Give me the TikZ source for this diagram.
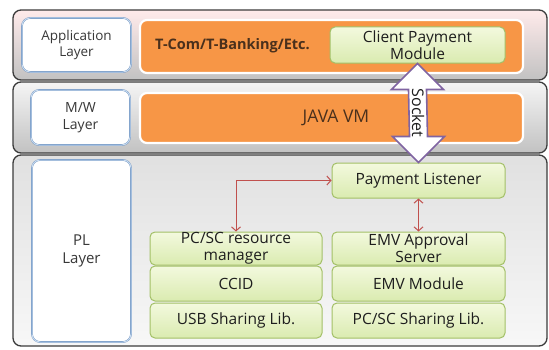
\documentclass[tikz,border=0pt]{standalone}
\usepackage{fontspec}
\setmainfont{Open Sans}
\usetikzlibrary{arrows.meta,calc}
\definecolor{bandline}{HTML}{3C3C3C}
\definecolor{labelblue}{HTML}{5F87BA}
\definecolor{labelglow}{HTML}{C9DCF0}
\definecolor{orangefill}{HTML}{F79646}
\definecolor{greenline}{HTML}{A3C067}
\definecolor{greentop}{HTML}{F3F9DE}
\definecolor{greenbot}{HTML}{DAEBB0}
\definecolor{redline}{HTML}{C0504D}
\definecolor{sockline}{HTML}{8064A2}
\definecolor{labeltext}{HTML}{383838}
\definecolor{browntext}{HTML}{4A301C}
\definecolor{darktext}{HTML}{1E1E1E}
\tikzset{
  band/.style={draw=bandline, line width=1.3pt, rounded corners=8pt, minimum width=534pt, inner sep=0pt},
  layerbox/.style={draw=labelblue, line width=1.6pt, fill=white, rounded corners=8pt, inner sep=0pt, align=center, text=labeltext, font=\fontsize{13.5}{16}\selectfont,
    postaction={draw=labelglow, line width=1pt, rounded corners=6pt, shorten >=0pt}},
  orangebox/.style={draw=white, line width=2.2pt, fill=orangefill, rounded corners=7pt, minimum width=383pt, inner sep=0pt},
  greenbox/.style={draw=greenline, line width=1pt, top color=greentop, bottom color=greenbot, rounded corners=5pt, inner sep=0pt, align=center, text=darktext, font=\fontsize{15.5}{17}\selectfont},
  redarrow/.style={draw=redline, line width=1pt, {Straight Barb[length=4pt,width=9pt]}-{Straight Barb[length=4pt,width=9pt]}}
}
\begin{document}
\begin{tikzpicture}[x=1pt,y=1pt]
\useasboundingbox[fill=white] (0,0) rectangle (549,349);
% layer bands
\node[band, top color=white!92!red, bottom color=black!24, minimum height=70pt] (appband) at (280,304) {};
\node[band, top color=white!96!black, bottom color=black!24, minimum height=71pt] (mwband) at (280,231.5) {};
\node[band, top color=black!12, bottom color=black!3, minimum height=191pt] (plband) at (280,98.5) {};
% layer labels
\node[layerbox, minimum width=109pt, minimum height=54pt] (applbl) at (76.5,304) {Application\\Layer};
\node[layerbox, minimum width=99pt, minimum height=55pt, font=\fontsize{14}{17}\selectfont] (mwlbl) at (80.5,231.5) {M/W\\Layer};
\node[layerbox, minimum width=99pt, minimum height=182pt, font=\fontsize{15}{18}\selectfont] (pllbl) at (81.5,98) {PL\\Layer};
% orange boxes
\node[orangebox, minimum height=53pt] (apporange) at (331.5,302.5) {};
\node[orangebox, minimum height=50pt] (javavm) at (331.5,231) {};
\node[inner sep=0pt, font=\fontsize{17.5}{20}\selectfont, text=browntext] (javatext) at (336,231) {JAVA VM};
\node[anchor=west, inner sep=0pt, font=\bfseries\fontsize{14.5}{17}\selectfont, text=browntext] (tcom) at (155,303) {T-Com/T-Banking/Etc.};
% client module
\node[greenbox, minimum width=175pt, minimum height=36pt] (client) at (417.5,304) {Client Payment\\Module};
% PL boxes right column
\node[greenbox, minimum width=173pt, minimum height=35pt] (plisten) at (418.5,168.5) {Payment Listener};
\node[greenbox, minimum width=173pt, minimum height=33pt] (emvserver) at (418.5,100.5) {EMV Approval\\Server};
\node[greenbox, minimum width=173pt, minimum height=35pt] (emvmod) at (418.5,65.5) {EMV Module};
\node[greenbox, minimum width=173pt, minimum height=35pt] (pcscshare) at (418.5,28.5) {PC/SC Sharing Lib.};
% PL boxes left column
\node[greenbox, minimum width=172pt, minimum height=33pt] (pcscres) at (236,100.5) {PC/SC resource\\manager};
\node[greenbox, minimum width=172pt, minimum height=35pt] (ccid) at (236,65.5) {CCID};
\node[greenbox, minimum width=172pt, minimum height=35pt] (usbshare) at (236,28.5) {USB Sharing Lib.};
% socket double arrow
\coordinate (socktop) at (client.south);
\coordinate (sockbot) at (plisten.north);
\draw[draw=sockline, line width=1.6pt, fill=white, line join=miter]
  (socktop) -- ++(26,-26) -- ++(-17,0) -- ($(sockbot)+(9,26)$) -- ++(17,0) -- (sockbot)
  -- ++(-26,26) -- ++(17,0) -- ($(socktop)+(-9,-26)$) -- ++(-17,0) -- cycle;
\node[rotate=-90, inner sep=0pt, font=\fontsize{16}{18}\selectfont, text=darktext] (socklbl) at ($(socktop)!0.5!(sockbot)$) {Socket};
% red connectors
\draw[redarrow] (pcscres.north) |- (plisten.west);
\draw[redarrow] (plisten.south) -- (emvserver.north);
\end{tikzpicture}
\end{document}
